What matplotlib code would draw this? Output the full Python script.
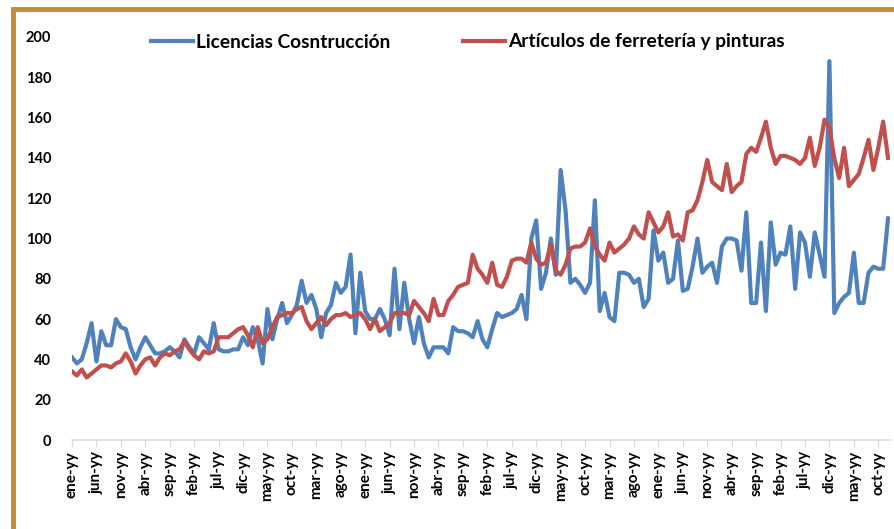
import numpy as np
import matplotlib
matplotlib.use("Agg")
import matplotlib.pyplot as plt
from matplotlib.patches import Rectangle

# monthly series (168 months)
licencias = [41, 38, 40, 48, 58, 39, 54, 47, 47, 60, 56, 55, 46, 40, 46, 51, 47, 43, 43, 44,
             46, 44, 41, 50, 46, 43, 51, 48, 45, 58, 45, 44, 44, 45, 45, 51, 47, 56, 50, 38,
             65, 50, 60, 68, 58, 62, 67, 79, 68, 72, 65, 51, 63, 67, 78, 73, 76, 92, 53, 83,
             64, 60, 60, 65, 60, 52, 85, 55, 78, 60, 48, 61, 48, 41, 46, 46, 46, 43, 56, 54,
             54, 53, 51, 59, 50, 46, 55, 63, 61, 62, 63, 65, 72, 60, 100, 109, 75, 83, 100, 82,
             134, 114, 78, 80, 77, 73, 78, 119, 64, 73, 61, 59, 83, 83, 82, 78, 80, 66, 70, 104,
             89, 93, 78, 80, 99, 74, 75, 86, 100, 83, 86, 88, 78, 96, 100, 100, 99, 84, 113, 68,
             68, 98, 64, 108, 87, 93, 92, 106, 75, 103, 98, 81, 103, 92, 81, 188, 63, 68, 71, 73,
             93, 68, 68, 83, 86, 85, 85, 110]

ferreteria = [34, 32, 35, 31, 33, 35, 37, 37, 36, 38, 39, 43, 39, 33, 37, 40, 41, 37, 41, 43,
              42, 44, 45, 49, 45, 42, 40, 44, 43, 44, 51, 51, 51, 53, 55, 56, 52, 46, 56, 48,
              50, 56, 61, 62, 63, 63, 65, 66, 59, 55, 58, 61, 57, 60, 62, 62, 63, 61, 62, 63,
              60, 55, 60, 54, 56, 58, 63, 63, 63, 62, 69, 66, 63, 59, 70, 62, 62, 69, 72, 76,
              77, 78, 92, 85, 82, 78, 88, 77, 76, 81, 89, 90, 90, 88, 98, 90, 87, 88, 97, 84,
              82, 87, 95, 96, 96, 98, 105, 96, 92, 89, 98, 93, 95, 97, 100, 106, 102, 100, 113, 108,
              103, 106, 113, 101, 102, 99, 113, 114, 119, 128, 139, 128, 126, 124, 137, 123, 126, 128, 142, 145,
              143, 150, 158, 145, 137, 141, 141, 140, 139, 137, 140, 150, 136, 145, 159, 155, 140, 130, 145, 126,
              129, 132, 140, 149, 134, 145, 158, 140]

meses = ['ene', 'feb', 'mar', 'abr', 'may', 'jun', 'jul', 'ago', 'sep', 'oct', 'nov', 'dic']
etiquetas = [meses[m % 12] + '-yy' for m in range(len(licencias))]

azul = '#4F81BD'
rojo = '#C0504D'
fuente = 'Lato'

fig = plt.figure(figsize=(8.95, 5.29), dpi=100)
# marco dorado
fig.patches.append(Rectangle((13 / 895, -0.05), 1.1, 1 - 9 / 529 + 0.05, transform=fig.transFigure,
                             fill=False, edgecolor='#C48A35', linewidth=3.5))

ax = fig.add_axes([72 / 895, 1 - 440 / 529, (890 - 72) / 895, (440 - 37) / 529])
x = np.arange(len(licencias))
ax.plot(x, licencias, color=azul, lw=3, label='Licencias Cosntrucción', solid_joinstyle='round')
ax.plot(x, ferreteria, color=rojo, lw=3, label='Artículos de ferretería y pinturas',
        solid_joinstyle='round')

ax.set_xlim(0, len(licencias) - 0.6)
ax.set_ylim(0, 200)
ax.set_yticks(np.arange(0, 201, 20))
ax.set_yticklabels([str(v) for v in range(0, 201, 20)], fontsize=10.5, fontweight='bold',
                   family=fuente)
pos = x[::5]
ax.set_xticks(pos)
ax.set_xticklabels([etiquetas[i] for i in pos], rotation=90, fontsize=11, fontweight='bold',
                   family=fuente, va='top')
ax.tick_params(axis='y', length=0, pad=15)
ax.tick_params(axis='x', length=5, color='#D9D9D9', pad=3)
for s in ['top', 'right', 'left']:
    ax.spines[s].set_visible(False)
ax.spines['bottom'].set_color('#D9D9D9')
ax.spines['bottom'].set_linewidth(1.2)

leg = ax.legend(loc='center', bbox_to_anchor=(0.484, (440 - 42) / 403), ncol=2, frameon=False,
                prop={'family': fuente, 'weight': 'bold', 'size': 13.8},
                handlelength=2.2, handletextpad=0.15, columnspacing=3.8)

fig.savefig('out.png', dpi=100)
